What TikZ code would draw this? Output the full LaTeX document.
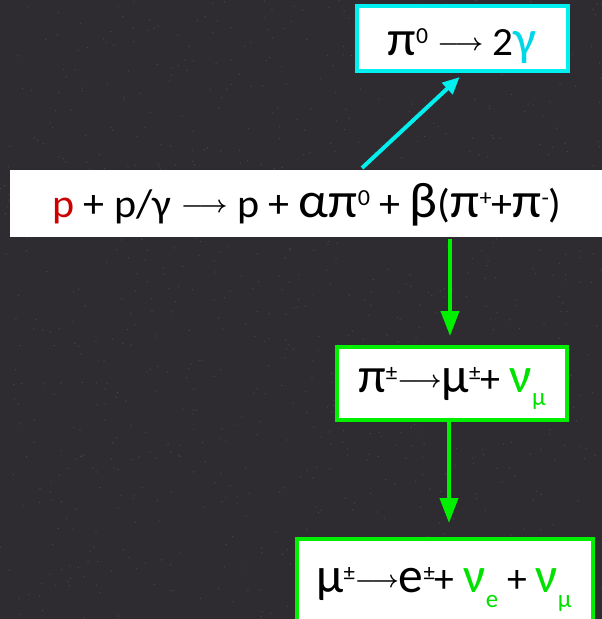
\documentclass[tikz,border=0pt]{standalone}
\usepackage{fontspec}
\setmainfont{Carlito}
\usetikzlibrary{arrows.meta}
\definecolor{bg}{RGB}{46,44,48}
\definecolor{speck}{RGB}{120,118,122}
\definecolor{cy}{RGB}{0,240,240}
\definecolor{gr}{RGB}{0,240,0}
\definecolor{pr}{RGB}{204,0,0}
\definecolor{cytext}{RGB}{0,215,230}
\definecolor{grtext}{RGB}{0,225,0}
\newcommand\gk[1]{\scalebox{1.25}{#1}}
\newcommand\supx[1]{\raisebox{12pt}{\fontsize{23}{23}\selectfont #1}}
\newcommand\subx[2]{\raisebox{#1}{\fontsize{20}{20}\selectfont #2}}
\newcommand\arr{\raisebox{5pt}{\fontsize{10}{12}\selectfont\boldmath\scalebox{2.4}{$\longrightarrow$}}}
\begin{document}
\begin{tikzpicture}[x=1pt,y=-1pt,
  box/.style={draw,line width=4pt,fill=white,inner sep=0pt},
  txt/.style={anchor=base,inner sep=0pt,text=black,font=\fontsize{40}{46}\selectfont},
  cyarrow/.style={draw=cy,line width=4pt,-{Triangle[length=17pt,width=15pt]}},
  grarrow/.style={draw=gr,line width=4pt,-{Triangle[length=25pt,width=18pt]}}]
\useasboundingbox (0,0) rectangle (602,619);
\fill[bg] (0,0) rectangle (602,619);
\pgfmathsetseed{7}
\foreach \i in {1,...,900}{
  \fill[speck,opacity=0.35] ({301+301*rand},{309.5+309.5*rand}) circle (0.7pt);
}
% boxes
\node[box,draw=cy,minimum width=211pt,minimum height=65pt] (top) at (462.5,38.5) {};
\node[box,draw=none,minimum width=592pt,minimum height=67pt] (main) at (306,203.5) {};
\node[box,draw=gr,minimum width=230pt,minimum height=73pt] (b2) at (452,383.5) {};
\node[box,draw=gr,minimum width=296pt,minimum height=86pt] (b3) at (445,582) {};
% texts
\node[txt] (ttop) at (462,55) {\scalebox{1.03}[1]{\gk{π}\supx{0} \arr{} 2\textcolor{cytext}{\gk{γ}}}};
\node[txt] (tmain) at (307,217) {\scalebox{1.05}[1]{\textcolor{pr}{p} + p/γ \arr{} p + \gk{α}\gk{π}\supx{0} + \gk{β}(\gk{π}\supx{+}+\gk{π}\supx{-})}};
\node[txt] (tb2) at (452,392) {\scalebox{1.0}[1]{\gk{π}\supx{±}\arr\gk{μ}\supx{±}+ \textcolor{grtext}{\gk{ν}\subx{-13pt}{\gk{μ}}}}};
\node[txt] (tb3) at (444,592) {\scalebox{0.99}[1]{\gk{μ}\supx{±}\arr\gk{e}\supx{±}+ \textcolor{grtext}{\gk{ν}\subx{-15pt}{\gk{e}}} + \textcolor{grtext}{\gk{ν}\subx{-15pt}{\gk{μ}}}}};
% connectors
\coordinate (ca) at (362,0);
\coordinate (cb) at (464,0);
\coordinate (g1) at (450,0);
\coordinate (g2) at (449,0);
\draw[cyarrow,shorten >=6pt] (main.north -| ca) -- (top.south -| cb);
\draw[grarrow,shorten >=9pt] (main.south -| g1) -- (b2.north -| g1);
\draw[grarrow,shorten >=14pt] (b2.south -| g2) -- (b3.north -| g2);
\end{tikzpicture}
\end{document}
